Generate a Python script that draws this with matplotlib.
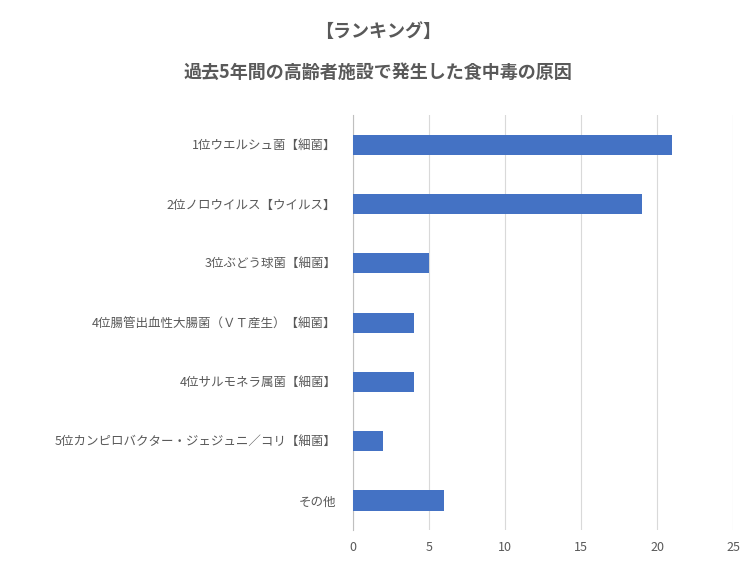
import matplotlib.pyplot as plt

plt.rcParams["font.family"] = "Noto Sans CJK JP"

# DATA
categories = [
    "1位ウエルシュ菌【細菌】",
    "2位ノロウイルス【ウイルス】",
    "3位ぶどう球菌【細菌】",
    "4位腸管出血性大腸菌（ＶＴ産生）【細菌】",
    "4位サルモネラ属菌【細菌】",
    "5位カンピロバクター・ジェジュニ／コリ【細菌】",
    "その他",
]
values = [21, 19, 5, 4, 4, 2, 6]
xticks = [0, 5, 10, 15, 20, 25]

fig = plt.figure(figsize=(7.56, 5.67), dpi=100)
ax = fig.add_axes([0.467, 0.065, 0.503, 0.732])

pos = list(range(len(categories)))[::-1]
ax.barh(pos, values, height=0.34, color="#4472C4", zorder=3)
ax.set_yticks(pos)
ax.set_yticklabels(categories)
ax.set_ylim(-0.5, len(categories) - 0.5)
ax.set_xlim(0, 25)
ax.set_xticks(xticks)
ax.grid(axis="x", color="#D9D9D9", linewidth=0.8, zorder=0)
for s in ["top", "right", "bottom"]:
    ax.spines[s].set_visible(False)
ax.spines["left"].set_color("#BFBFBF")
ax.tick_params(axis="both", length=0, colors="#595959", labelsize=9)
ax.tick_params(axis="y", pad=12)
ax.tick_params(axis="x", pad=8)

fig.text(0.5, 0.945, "【ランキング】", ha="center", va="center",
         fontsize=13, fontweight="bold", color="#595959")
fig.text(0.5, 0.872, "過去5年間の高齢者施設で発生した食中毒の原因", ha="center",
         va="center", fontsize=13, fontweight="bold", color="#595959")

plt.savefig("out.png", dpi=100)
